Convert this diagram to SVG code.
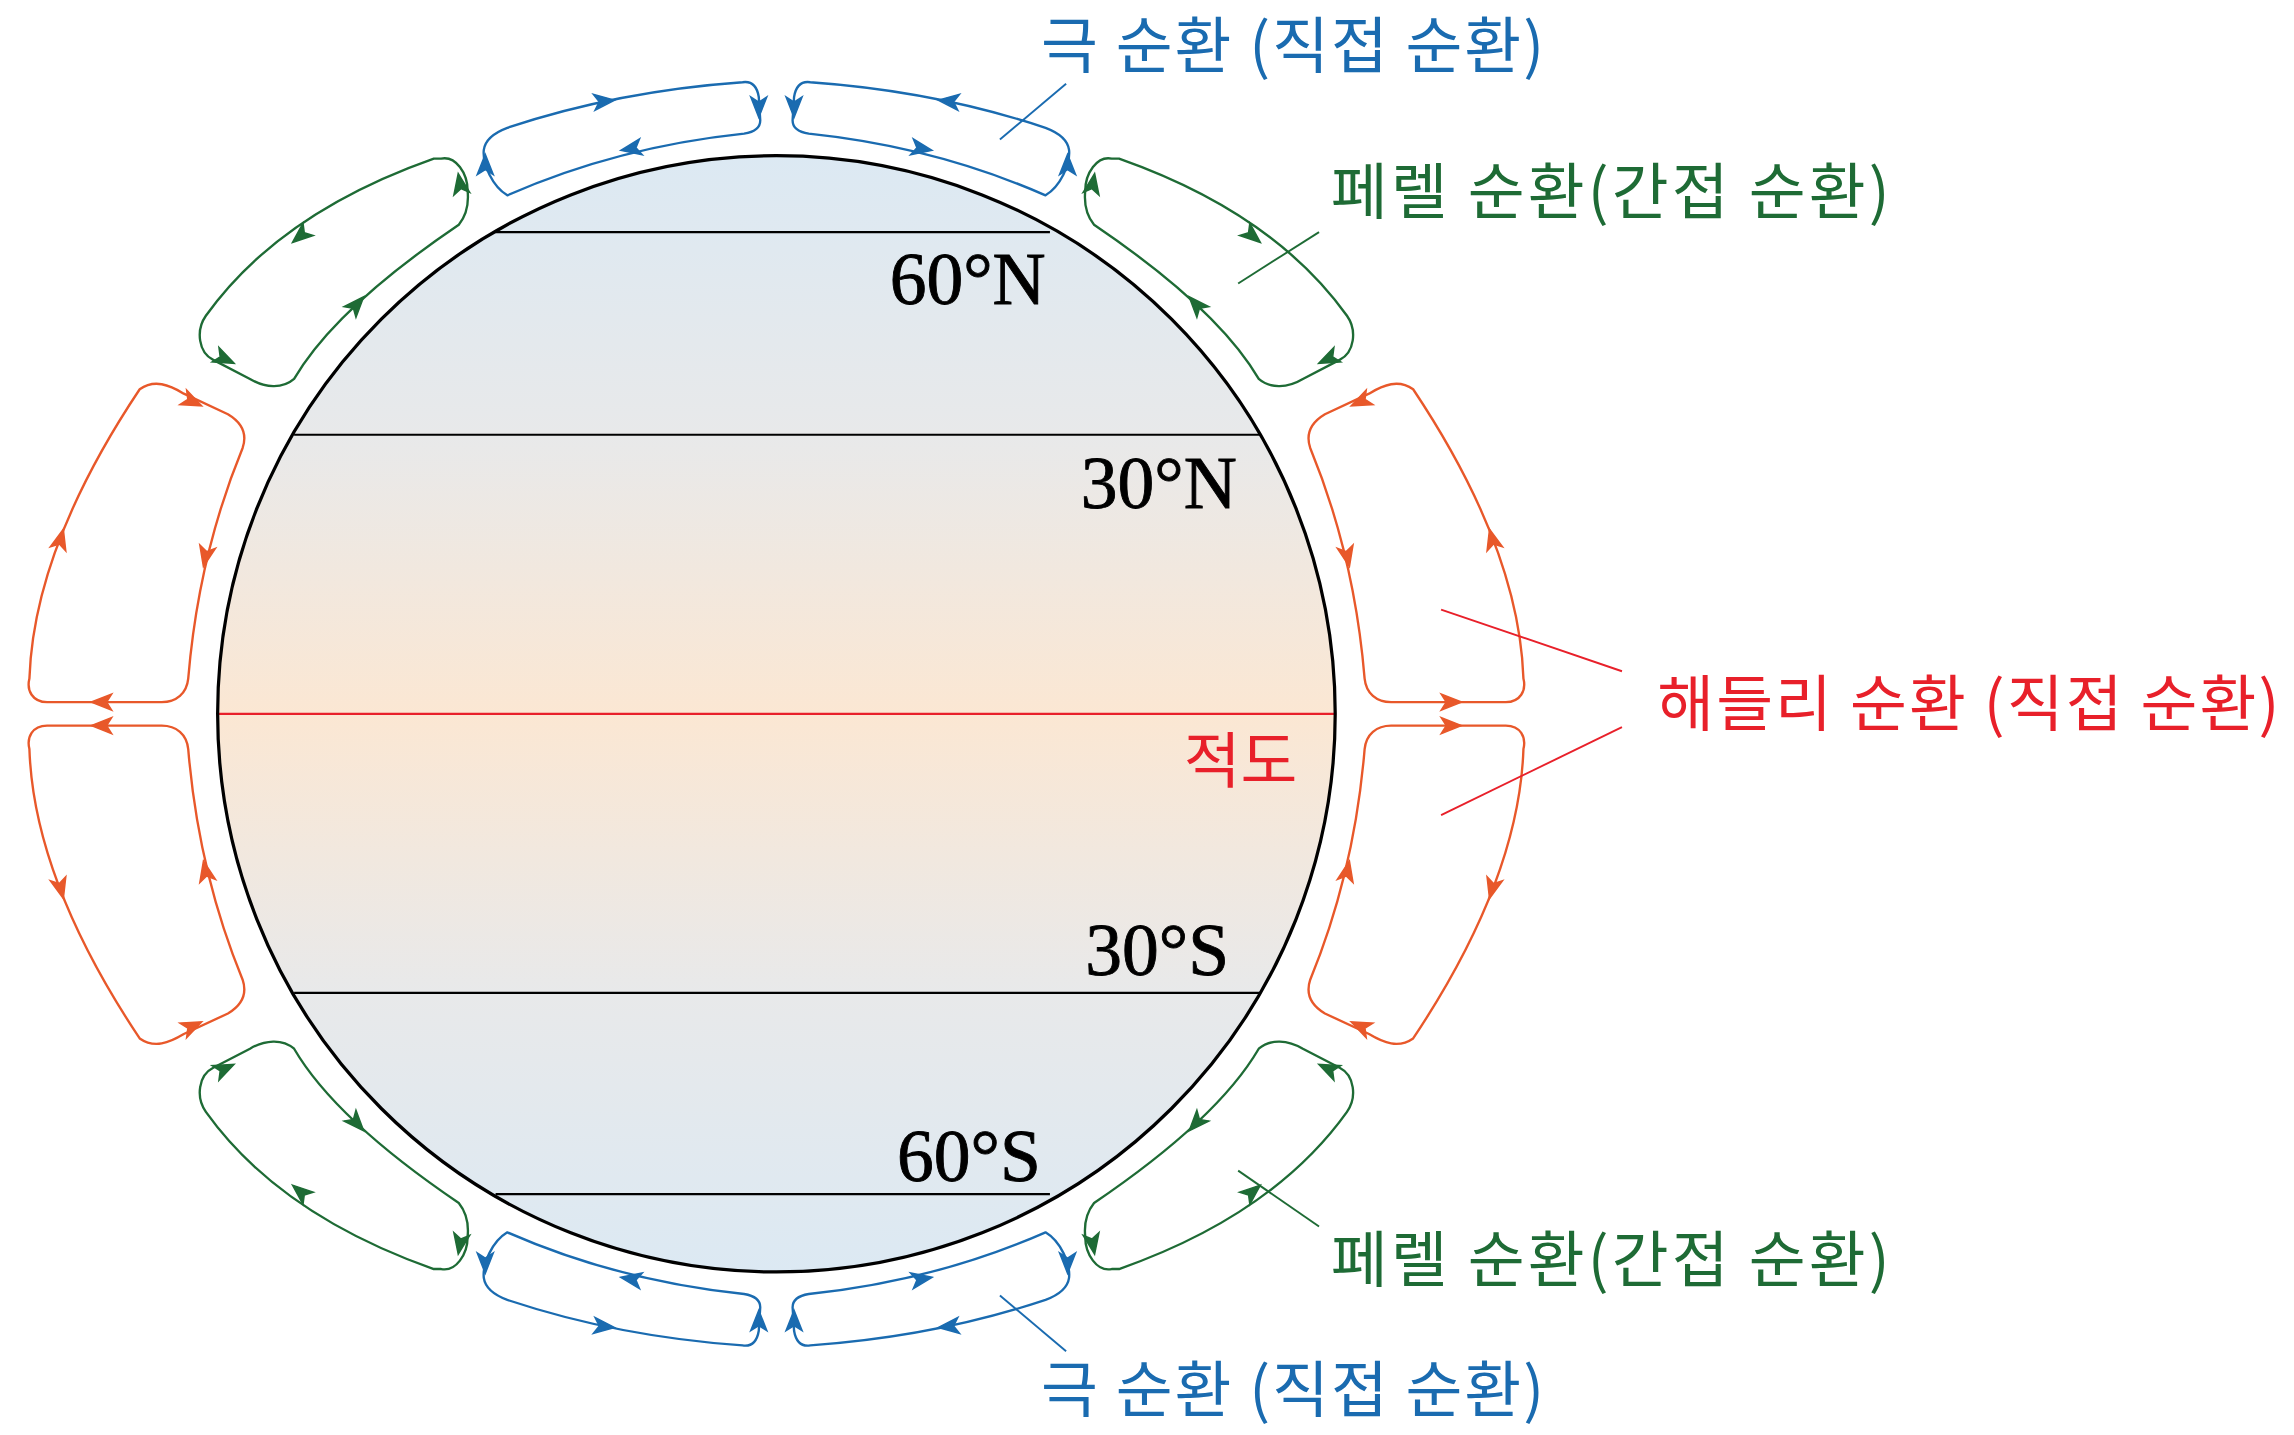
<svg xmlns="http://www.w3.org/2000/svg" xmlns:xlink="http://www.w3.org/1999/xlink" width="2294" height="1435" viewBox="0 0 2294 1435">
<style>
.cell{fill:none;stroke-width:1.6;stroke-linejoin:round}
.b{stroke:#1a6bb0;fill:#1a6bb0}.g{stroke:#1e6b35;fill:#1e6b35}.o{stroke:#e8582a;fill:#e8582a}
.lat{font-family:"Liberation Serif","Times New Roman",serif;font-size:50px;fill:#000;stroke:#000;stroke-width:0.6}
.lab{font-family:"Noto Sans CJK KR",sans-serif;font-size:42px}
.lead{stroke-width:1.3;fill:none}
</style>
<defs>
<path id="ah" d="M8,0 L-6,-5.5 L-2.5,0 L-6,5.5 Z"/>
<linearGradient id="bg" x1="0" y1="0" x2="0" y2="1">
<stop offset="0" stop-color="#dce9f3"/><stop offset="0.25" stop-color="#e8e9ea"/>
<stop offset="0.5" stop-color="#fbe7d3"/><stop offset="0.75" stop-color="#e8e9ea"/>
<stop offset="1" stop-color="#dce9f3"/></linearGradient>
<g id="quad">
<g class="b">
<path class="cell" style="fill:none" d="M345,133 C335,127 328,112 329,102 C330,95 337,90 345,87 Q420,62 505,56 C512,55 515,60 516,66 L517,82 C517,88 512,90 506,91 Q420,100 345,133 Z"/>
<use href="#ah" transform="translate(410,69) rotate(-6)"/>
<use href="#ah" transform="translate(430,101) rotate(170)"/>
<use href="#ah" transform="translate(330,113) rotate(-90)"/>
<use href="#ah" transform="translate(516,72) rotate(90)"/>
</g>
<g class="g">
<path class="cell" style="fill:none" d="M300,108 C310,106 318,118 318,130 C319,140 316,148 312,153 Q228,210 200,258 C192,265 180,264 170,258 L145,245 C135,240 133,225 140,215 Q190,145 295,108 Z"/>
<use href="#ah" transform="translate(205,160) rotate(140)"/>
<use href="#ah" transform="translate(242,208) rotate(-48)"/>
<use href="#ah" transform="translate(152,244) rotate(25)"/>
<use href="#ah" transform="translate(313,126) rotate(-100)"/>
</g>
<g class="o">
<path class="cell" style="fill:none" d="M95,265 C105,258 115,262 125,268 L155,282 C165,288 168,296 165,305 Q135,378 128,462 C127,472 120,478 110,478 L32,478 C22,478 18,470 20,462 Q23,373 95,265 Z"/>
<use href="#ah" transform="translate(41,368) rotate(-75)"/>
<use href="#ah" transform="translate(140,378) rotate(102)"/>
<use href="#ah" transform="translate(130,273) rotate(25)"/>
<use href="#ah" transform="translate(70,478) rotate(180)"/>
</g>
</g>
</defs>
<rect width="2294" height="1435" fill="#fff"/>
<g transform="scale(1.4705,1.4688)">
<g id="earth">
<circle cx="528" cy="486" r="380" fill="url(#bg)"/>
<g stroke="#000" stroke-width="1.5">
<line x1="337" y1="158" x2="714" y2="158"/>
<line x1="200" y1="296" x2="857" y2="296"/>
<line x1="200" y1="676" x2="857" y2="676"/>
<line x1="337" y1="813" x2="714" y2="813"/>
</g>
<line x1="148" y1="486" x2="908" y2="486" stroke="#e8202a" stroke-width="1.5"/>
<circle cx="528" cy="486" r="380" fill="none" stroke="#000" stroke-width="2.2"/>
<text class="lat" x="605" y="207">60°N</text>
<text class="lat" x="735" y="346">30°N</text>
<text class="lat" x="738" y="664">30°S</text>
<text class="lat" x="610" y="804">60°S</text>
<text class="lab" x="805" y="533" fill="#e8202a">적도</text>
</g>
<g id="cells-nw"><use href="#quad"/></g>
<g id="cells-ne"><use href="#quad" transform="translate(1056,0) scale(-1,1)"/></g>
<g id="cells-sw"><use href="#quad" transform="translate(0,972) scale(1,-1)"/></g>
<g id="cells-se"><use href="#quad" transform="translate(1056,972) scale(-1,-1)"/></g>
<g id="connectors">
<line class="lead" stroke="#1a6bb0" x1="725" y1="57" x2="680" y2="95"/>
<line class="lead" stroke="#1e6b35" x1="897" y1="158" x2="842" y2="193"/>
<line class="lead" stroke="#e8202a" x1="1103" y1="457" x2="980" y2="415"/>
<line class="lead" stroke="#e8202a" x1="1103" y1="495" x2="980" y2="555"/>
<line class="lead" stroke="#1e6b35" x1="897" y1="835" x2="842" y2="797"/>
<line class="lead" stroke="#1a6bb0" x1="725" y1="920" x2="680" y2="882"/>
</g>
<g id="labels">
<text class="lab" x="708" y="46" fill="#1a6bb0" textLength="342">극 순환 (직접 순환)</text>
<text class="lab" x="905" y="146" fill="#1e6b35" textLength="380">페렐 순환(간접 순환)</text>
<text class="lab" x="1127" y="494" fill="#e8202a" textLength="423">해들리 순환 (직접 순환)</text>
<text class="lab" x="905" y="873" fill="#1e6b35" textLength="380">페렐 순환(간접 순환)</text>
<text class="lab" x="708" y="961" fill="#1a6bb0" textLength="342">극 순환 (직접 순환)</text>
</g>
</g>
</svg>
